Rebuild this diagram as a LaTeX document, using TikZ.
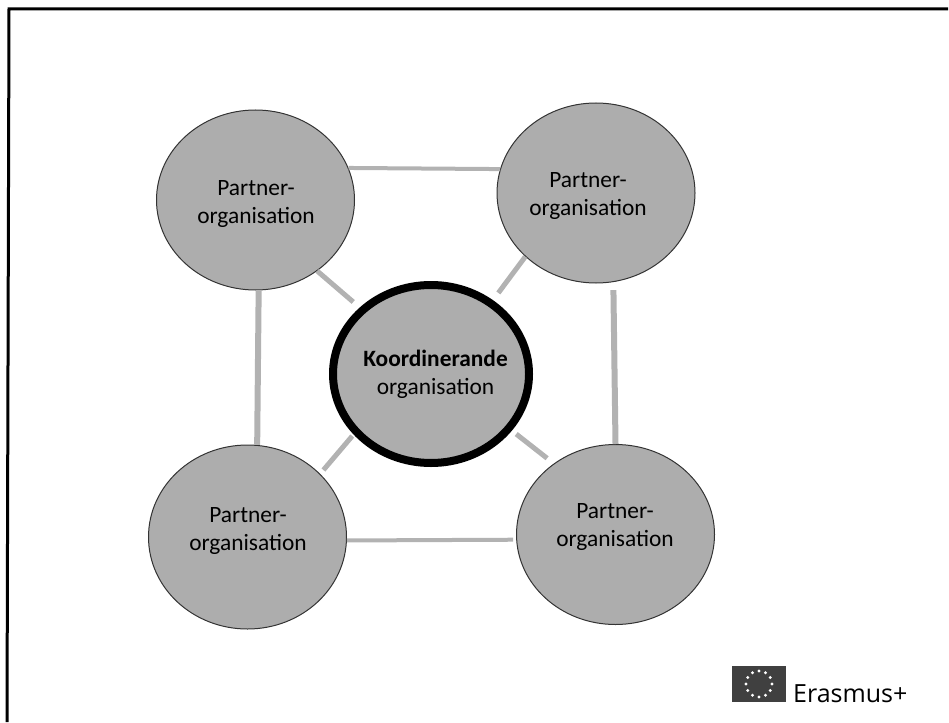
\documentclass[tikz,border=0pt]{standalone}
\usepackage{fontspec}
\setmainfont{Carlito}
\newfontfamily\erfont{Open Sans}
\usetikzlibrary{shapes.geometric}
\definecolor{fillg}{gray}{0.68}
\definecolor{lineg}{gray}{0.7}
\tikzset{
  org/.style={ellipse,draw=black!80,line width=1pt,fill=fillg,minimum width=198pt,minimum height=180pt,inner sep=0pt},
  coord/.style={org,draw=black,line width=8pt,minimum width=196pt,minimum height=178pt},
  lbl/.style={align=center,inner sep=0pt,font=\fontsize{23.4}{28}\selectfont,text=black},
  vlink/.style={lineg,line width=6pt},
  hlink/.style={lineg,line width=4pt},
  dlink/.style={lineg,line width=5pt}
}
\begin{document}
\begin{tikzpicture}[x=1pt,y=-1pt]
\useasboundingbox (0,0) rectangle (949,722);
\coordinate (fa) at (7,722);
\coordinate (fb) at (9,9);
\coordinate (fc) at (948,9);
\draw[black,line width=3pt] (fa) -- (fb) -- (fc);
\node[org] (tl) at (255.5,200) {};
\node[org] (tr) at (596,193) {};
\node[org,minimum height=184pt] (bl) at (247.5,537) {};
\node[org] (br) at (615.5,534.5) {};
\node[coord] (c) at (431,374) {};
\node[lbl] (tltext) at (256,204) {Partner-\\organisation};
\node[lbl] (trtext) at (588,196) {Partner-\\organisation};
\node[lbl] (bltext) at (248,531) {Partner-\\organisation};
\node[lbl] (brtext) at (615,527) {Partner-\\organisation};
\node[lbl] (ctext) at (435.5,374.5) {\textbf{Koordinerande}\\organisation};
\draw[hlink] (tl.19) -- (tr.166);
\draw[hlink,shorten >=3pt] (bl.358) -- (br.183);
\draw[vlink] (tl.272) -- (bl.84);
\draw[vlink,shorten <=8pt] (tr.281) -- (br.north);
\draw[dlink,shorten >=8.5pt] (tl.311.8) -- (c.137.3);
\draw[dlink,shorten >=9pt] (tr.222.5) -- (c.50.7);
\draw[dlink,shorten <=5pt,shorten >=2pt] (bl.41.6) -- (c.218);
\draw[dlink,shorten <=8.5pt,shorten >=5.5pt] (br.131.8) -- (c.325.6);
\node[inner sep=0pt,minimum width=54pt,minimum height=36pt,fill=black!75] (flag) at (759,684) {};
\foreach \a in {0,30,...,330}
  \fill[white] (flag.center) ++(\a:13pt and -13pt) circle (1.6pt);
\node[anchor=base west,inner sep=0pt,font=\erfont\fontsize{25}{28}\selectfont] (er) at (793,702) {Erasmus+};
\end{tikzpicture}
\end{document}
